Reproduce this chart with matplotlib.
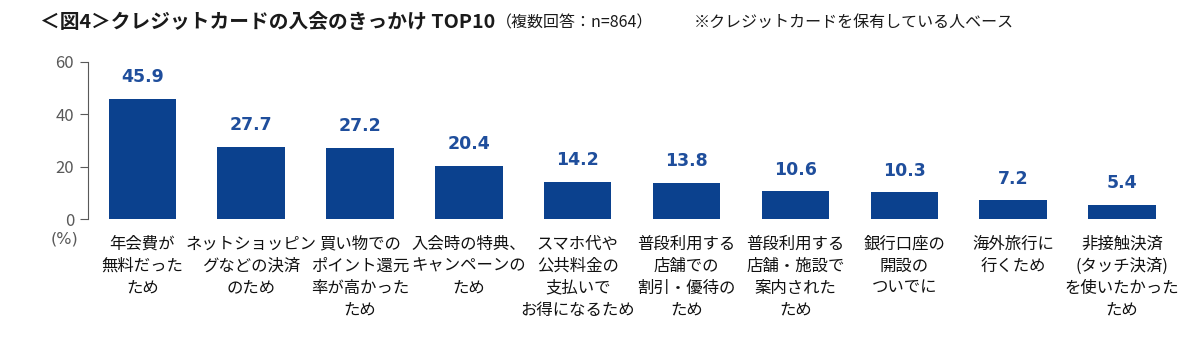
import matplotlib
matplotlib.use('Agg')
import matplotlib.pyplot as plt
import numpy as np

plt.rcParams['font.family'] = ['Noto Sans CJK JP', 'DejaVu Sans']

# data
categories = [
    '年会費が\n無料だった\nため',
    'ネットショッピン\nグなどの決済\nのため',
    '買い物での\nポイント還元\n率が高かった\nため',
    '入会時の特典、\nキャンペーンの\nため',
    'スマホ代や\n公共料金の\n支払いで\nお得になるため',
    '普段利用する\n店舗での\n割引・優待の\nため',
    '普段利用する\n店舗・施設で\n案内された\nため',
    '銀行口座の\n開設の\nついでに',
    '海外旅行に\n行くため',
    '非接触決済\n(タッチ決済)\nを使いたかった\nため',
]
values = [45.9, 27.7, 27.2, 20.4, 14.2, 13.8, 10.6, 10.3, 7.2, 5.4]
yticks = [0, 20, 40, 60]

bar_color = '#0b418e'
label_color = '#1f4e9c'
grey = '#595959'

fig = plt.figure(figsize=(12, 3.5), dpi=100)
ax = fig.add_axes([0.0733, 0.374, 0.907, 0.449])

x = np.arange(len(values))
bars = ax.bar(x, values, width=0.62, color=bar_color)

for xi, v in zip(x, values):
    ax.annotate(f'{v:.1f}', (xi, v), xytext=(0, 9), textcoords='offset points',
                ha='center', va='bottom', fontsize=12.5, fontweight='bold',
                color=label_color, family=['DejaVu Sans'])

ax.set_xlim(-0.5, 9.5)
ax.set_ylim(0, 60)
ax.set_yticks(yticks)
ax.set_yticklabels([str(t) for t in yticks], fontsize=12, color=grey)
ax.set_xticks(x)
ax.set_xticklabels(categories, fontsize=11.8, color='#111111', linespacing=1.38,
                   multialignment='center', va='top')
ax.tick_params(axis='x', length=0, pad=12)
ax.tick_params(axis='y', length=6, color=grey, pad=4)

for s in ['top', 'right', 'bottom']:
    ax.spines[s].set_visible(False)
ax.spines['left'].set_color(grey)

ax.text(-0.72, -4.8, '(%)', fontsize=11.5, color=grey, ha='center', va='top',
        transform=ax.transData, family=['DejaVu Sans'])

# title
fig.text(0.033, 0.935, '＜図4＞クレジットカードの入会のきっかけ TOP10', fontsize=14.2,
         fontweight='bold', va='center', ha='left', color='#1a1a1a')
fig.text(0.413, 0.935, '（複数回答：n=864）', fontsize=11.5, va='center', ha='left',
         color='#1a1a1a')
fig.text(0.578, 0.935, '※クレジットカードを保有している人ベース', fontsize=11.5,
         va='center', ha='left', color='#1a1a1a')

fig.savefig('out.png', dpi=100, facecolor='white')
